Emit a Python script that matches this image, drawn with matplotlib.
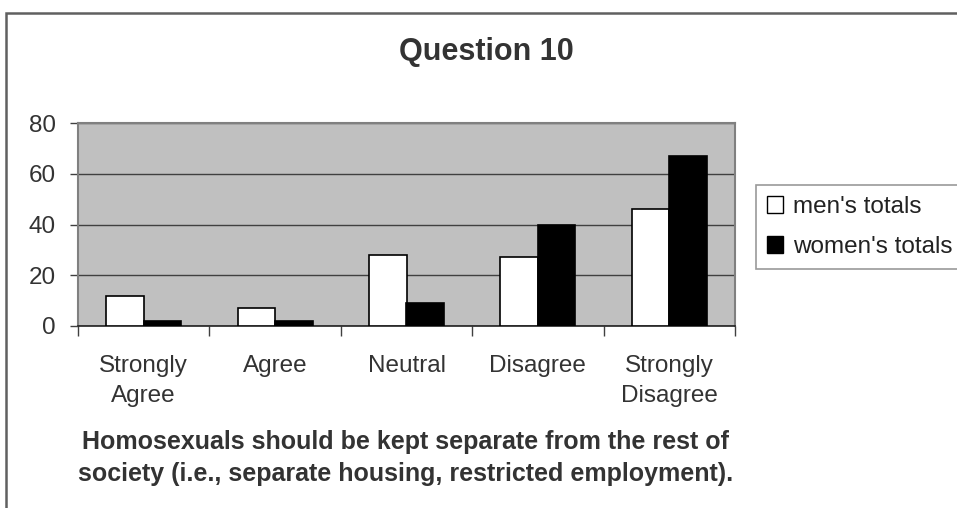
import matplotlib
matplotlib.use('Agg')
import matplotlib.pyplot as plt
import numpy as np
from matplotlib.patches import Rectangle, Patch

plt.rcParams['font.family'] = ['Liberation Sans', 'DejaVu Sans']

# Data
categories = ['Strongly\nAgree', 'Agree', 'Neutral', 'Disagree', 'Strongly\nDisagree']
men_totals = [12, 7, 28, 27, 46]
women_totals = [2, 2, 9, 40, 67]
series_names = ["men's totals", "women's totals"]

W, H = 957, 508
fig = plt.figure(figsize=(W / 100, H / 100), dpi=100)
fig.patch.set_facecolor('white')

# plot area in pixels: x 78..735, y 123..326
ax = fig.add_axes([78 / W, 1 - 326 / H, (735 - 78) / W, (326 - 123) / H])
ax.set_facecolor('#c0c0c0')

x = np.arange(len(categories))
bw = 0.286
ax.bar(x - bw / 2, men_totals, bw, color='white', edgecolor='black', linewidth=1.2, zorder=3)
ax.bar(x + bw / 2, women_totals, bw, color='black', edgecolor='black', linewidth=1.2, zorder=3)

ax.set_xlim(-0.5, len(categories) - 0.5)
ax.set_ylim(0, 80)
ax.set_yticks([0, 20, 40, 60, 80])
ax.yaxis.grid(True, color='#404040', linewidth=1.0, zorder=1)
ax.set_axisbelow(True)

text_color = '#333333'
ax.tick_params(axis='y', length=6, width=1, color='#404040', pad=10,
               labelsize=17.5, labelcolor=text_color)

# category labels at centres, tick marks at boundaries
ax.set_xticks(x)
ax.set_xticklabels(categories, linespacing=1.45)
ax.set_xticks(np.arange(-0.5, len(categories)), minor=True)
ax.tick_params(axis='x', which='major', length=0, pad=21,
               labelsize=17.5, labelcolor=text_color)
ax.tick_params(axis='x', which='minor', length=7, width=1, color='#404040')

for side in ['top', 'right', 'left']:
    ax.spines[side].set_color('#808080')
    ax.spines[side].set_linewidth(1.5)
ax.spines['bottom'].set_color('#202020')
ax.spines['bottom'].set_linewidth(1.2)

# Title and axis caption
fig.text(486 / W, 1 - 60 / H, 'Question 10', ha='center', va='baseline',
         fontsize=22, fontweight='bold', color=text_color)
fig.text(406 / W, 1 - 458 / H,
         'Homosexuals should be kept separate from the rest of\n'
         'society (i.e., separate housing, restricted employment).',
         ha='center', va='center', fontsize=18, fontweight='bold',
         color=text_color, linespacing=1.4)

# Legend
handles = [Patch(facecolor='white', edgecolor='black', linewidth=1),
           Patch(facecolor='black', edgecolor='black', linewidth=1)]
leg = fig.legend(handles, series_names, loc='upper left',
                 bbox_to_anchor=(756 / W, 1 - 185 / H),
                 fontsize=17.5, frameon=True, fancybox=False,
                 handlelength=0.68, handleheight=0.68, handletextpad=0.4,
                 borderpad=0.45, labelspacing=0.75, borderaxespad=0)
leg.get_frame().set_edgecolor('#808080')
leg.get_frame().set_linewidth(1.2)
for t in leg.get_texts():
    t.set_color('#222222')

# Outer chart border (cut off at right/bottom)
fig.add_artist(Rectangle((5.5 / W, -0.1), 2, 1.1 - 12.7 / H,
                         transform=fig.transFigure, fill=False,
                         edgecolor='#606060', linewidth=1.8))

fig.savefig('out.png', dpi=100)
